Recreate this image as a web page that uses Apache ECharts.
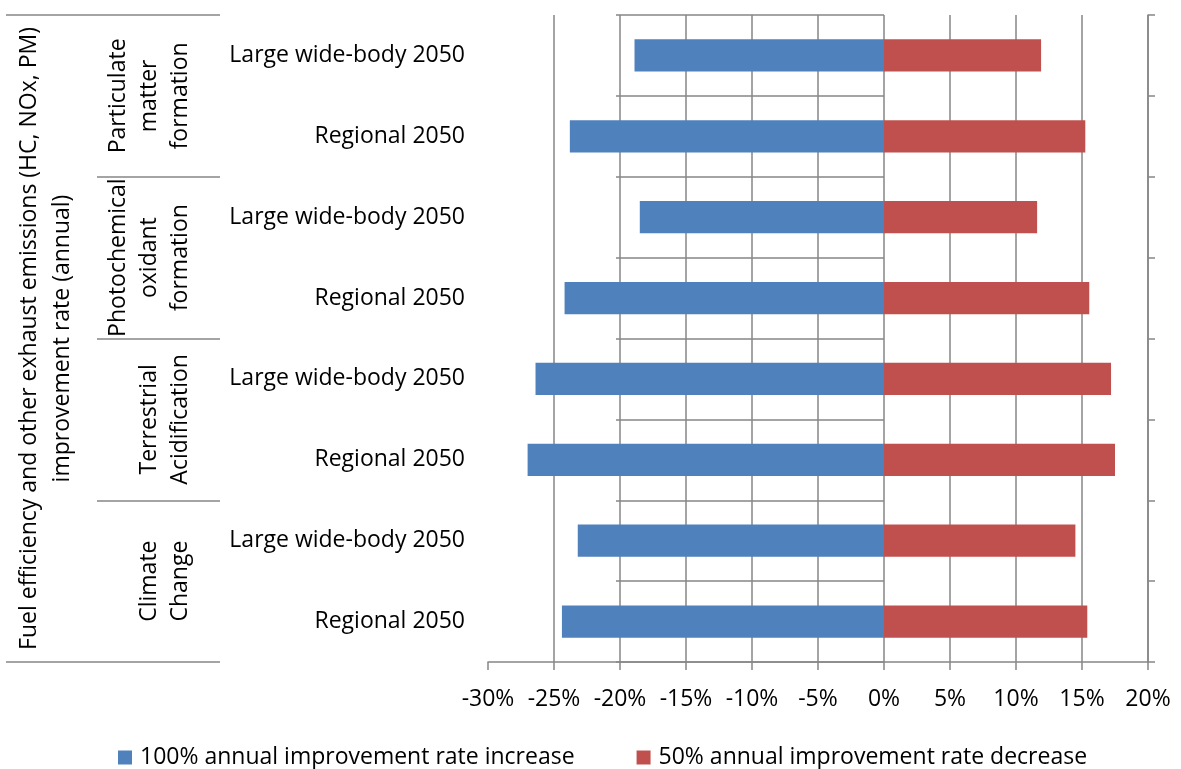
<!DOCTYPE html>
<html>
<head>
<meta charset="utf-8">
<script src="https://cdn.jsdelivr.net/npm/echarts@6/dist/echarts.min.js"></script>
<style>
html,body{margin:0;padding:0;background:#fff;}
#chart{width:1181px;height:769px;}
</style>
</head>
<body>
<div id="chart"></div>
<script>
// Data (top to bottom)
const subCategories = [
  'Large wide-body 2050', 'Regional 2050',
  'Large wide-body 2050', 'Regional 2050',
  'Large wide-body 2050', 'Regional 2050',
  'Large wide-body 2050', 'Regional 2050'
];
const groupCategories = [
  'Particulate\nmatter\nformation',
  'Photochemical\noxidant\nformation',
  'Terrestrial\nAcidification',
  'Climate\nChange'
];
const outerCategory = ['Fuel efficiency and other exhaust emissions (HC, NOx, PM)\nimprovement rate (annual)'];
const seriesNames = ['100% annual improvement rate increase', '50% annual improvement rate decrease'];
const increaseValues = [-18.9, -23.8, -18.5, -24.2, -26.4, -27.0, -23.2, -24.4];
const decreaseValues = [11.9, 15.25, 11.6, 15.55, 17.2, 17.5, 14.5, 15.4];
const xMin = -30, xMax = 20, xStep = 5;

const FONT = 'Open Sans';
const GRAY = '#868686';
const chart = echarts.init(document.getElementById('chart'), null, {renderer: 'canvas'});

const lineStyle = {color: GRAY, width: 1.5};

chart.setOption({
  animation: false,
  backgroundColor: '#ffffff',
  textStyle: {fontFamily: FONT},
  grid: {left: 488, right: 33, top: 15, bottom: 107, containLabel: false},
  legend: {
    data: seriesNames,
    left: 113,
    top: 741,
    icon: 'rect',
    itemWidth: 14,
    itemHeight: 14,
    itemGap: 62,
    textStyle: {fontFamily: FONT, fontSize: 23, color: '#000', padding: [0, 0, 0, 3]}
  },
  xAxis: {
    type: 'value',
    min: xMin, max: xMax, interval: xStep,
    axisLine: {show: true, lineStyle: lineStyle},
    axisTick: {show: true, length: 8, inside: false, lineStyle: lineStyle},
    axisLabel: {formatter: '{value}%', fontFamily: FONT, fontSize: 23, color: '#000', margin: 26},
    splitLine: {show: true, showMinLine: false, lineStyle: lineStyle}
  },
  yAxis: [
    {
      type: 'category', position: 'left', inverse: true,
      data: subCategories,
      axisLine: {show: false},
      axisTick: {show: true, length: 268, interval: 0, lineStyle: lineStyle},
      axisLabel: {interval: 0, fontFamily: FONT, fontSize: 23, color: '#000', margin: 23}
    },
    {
      type: 'category', position: 'left', inverse: true, offset: 268,
      data: groupCategories,
      axisLine: {show: false},
      axisTick: {show: true, length: 123, interval: 0, lineStyle: lineStyle},
      axisLabel: {interval: 0, rotate: 90, fontFamily: FONT, fontSize: 23, lineHeight: 31, color: '#000', margin: 24}
    },
    {
      type: 'category', position: 'left', inverse: true, offset: 391,
      data: outerCategory,
      axisLine: {show: false},
      axisTick: {show: true, length: 91, interval: 0, lineStyle: lineStyle},
      axisLabel: {interval: 0, rotate: 90, fontFamily: FONT, fontSize: 23, lineHeight: 33, color: '#000', margin: 18}
    },
    {
      type: 'category', position: 'right', inverse: true,
      data: subCategories,
      axisLine: {show: true, lineStyle: lineStyle},
      axisTick: {show: true, length: 7, inside: false, interval: 0, lineStyle: lineStyle},
      axisLabel: {show: false}
    }
  ],
  series: [
    {
      name: seriesNames[0], type: 'bar', stack: 'total', yAxisIndex: 0,
      barWidth: '40%', data: increaseValues,
      itemStyle: {color: '#4F81BD'}
    },
    {
      name: seriesNames[1], type: 'bar', stack: 'total', yAxisIndex: 0,
      barWidth: '40%', data: decreaseValues,
      itemStyle: {color: '#C0504D'}
    }
  ]
});
</script>
</body>
</html>
